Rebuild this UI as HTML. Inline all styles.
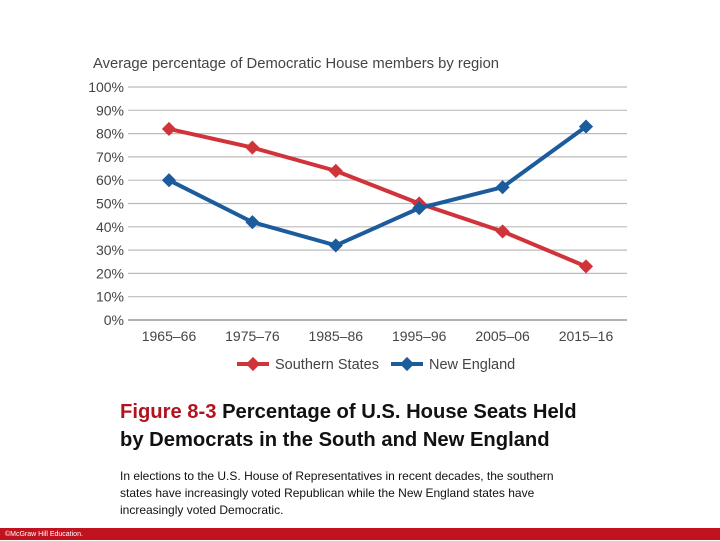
<!DOCTYPE html>
<html><head><meta charset="utf-8"><style>
body{margin:0;width:720px;height:540px;background:#fff;overflow:hidden;position:relative;font-family:"Liberation Sans",sans-serif}
.t{position:absolute;left:120px;top:398px;font-size:20.2px;font-weight:bold;line-height:28px;color:#111;font-family:"Liberation Sans Narrow","Liberation Sans",sans-serif;white-space:nowrap}
.c{position:absolute;left:120px;top:468px;font-size:12px;line-height:17px;color:#111;font-family:"Liberation Sans Narrow","Liberation Sans",sans-serif;width:466px}
.f{position:absolute;left:0;top:528px;width:720px;height:12px;background:#c1121f;color:#fff;font-size:7px;line-height:13px;padding-left:5px;box-sizing:border-box}
</style></head><body>
<svg id="chart" width="720" height="390" style="position:absolute;left:0;top:0"></svg>
<div class="t"><span style="color:#b3121f">Figure 8-3</span> Percentage of U.S. House Seats Held<br>by Democrats in the South and New England</div>
<div class="c">In elections to the U.S. House of Representatives in recent decades, the southern states have increasingly voted Republican while the New England states have increasingly voted Democratic.</div>
<div class="f">©McGraw Hill Education.</div>
<script>
const categories=["1965–66","1975–76","1985–86","1995–96","2005–06","2015–16"];
const southern=[82,74,64,50,38,23];
const newEngland=[60,42,32,48,57,83];
const yTicks=[0,10,20,30,40,50,60,70,80,90,100];
const NS="http://www.w3.org/2000/svg";
const svg=document.getElementById('chart');
const x=i=>169+i*83.4;
const y=v=>320-v*2.33;
function mk(t,a,p){const e=document.createElementNS(NS,t);for(const k in a)e.setAttribute(k,a[k]);(p||svg).appendChild(e);return e;}
const title=mk('text',{x:93,y:68,'font-size':14.8,fill:'#444'});title.textContent="Average percentage of Democratic House members by region";


yTicks.forEach(v=>{
  const l=mk('line',{x1:128,x2:627,y1:y(v),y2:y(v),stroke:v===0?'#999':'#bbb','stroke-width':v===0?1.5:1.2});
  
  
  const t=mk('text',{x:124,y:y(v)+5,'text-anchor':'end','font-size':14,fill:'#444'});t.textContent=v+'%';
  
  
});
categories.forEach((c,i)=>{
  const t=mk('text',{x:x(i),y:341,'text-anchor':'middle','font-size':14,fill:'#444'});t.textContent=c;
  
  
});
function series(vals,col,name){
  const p=mk('polyline',{points:vals.map((v,i)=>x(i)+','+y(v)).join(' '),fill:'none',stroke:col,'stroke-width':4});
  
  
  vals.forEach((v,i)=>{
    const d=mk('rect',{x:x(i)-5,y:y(v)-5,width:10,height:10,fill:col,transform:`rotate(45 ${x(i)} ${y(v)})`});
    
    
  });
}
series(southern,'#d0343a','southern-states');
series(newEngland,'#1c5b9c','new-england');
function legend(lx,col,label,name){
  const g=mk('g',{});
  
  
  mk('line',{x1:lx,x2:lx+32,y1:364,y2:364,stroke:col,'stroke-width':4},g);
  mk('rect',{x:lx+11,y:359,width:10,height:10,fill:col,transform:`rotate(45 ${lx+16} 364)`},g);
  const t=mk('text',{x:lx+38,y:369,'font-size':14.5,fill:'#444'},g);t.textContent=label;
}
legend(237,'#d0343a','Southern States','legend-southern-states');
legend(391,'#1c5b9c','New England','legend-new-england');
</script>
</body></html>
